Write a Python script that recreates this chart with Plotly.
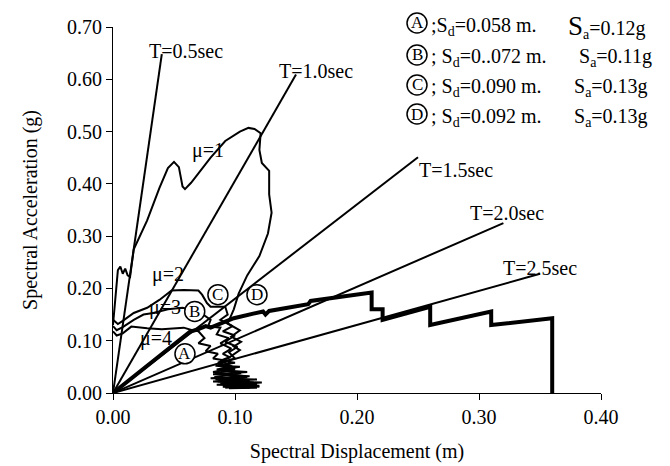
import plotly.graph_objects as go

FONT = "Liberation Serif"
W, H = 670, 466
ML, MR, MT, MB = 113, 69, 27, 73

# ---------------- data ----------------
period_labels = ["T=0.5sec", "T=1.0sec", "T=1.5sec", "T=2.0sec", "T=2.5sec"]
period_end_sd = [0.040, 0.150, 0.250, 0.320, 0.350]
period_end_sa = [0.648, 0.609, 0.451, 0.325, 0.228]

mu1_sd = [0.000, 0.002, 0.004, 0.006, 0.008, 0.010, 0.012, 0.014, 0.017, 0.028, 0.038, 0.045,
          0.050, 0.054, 0.057, 0.059, 0.064, 0.080, 0.092, 0.104, 0.111, 0.116, 0.121, 0.120,
          0.122, 0.128, 0.128, 0.130, 0.127, 0.120, 0.110, 0.103, 0.099, 0.094, 0.099, 0.104,
          0.097, 0.105, 0.099, 0.104, 0.096, 0.088, 0.100, 0.084, 0.104, 0.086, 0.110, 0.082,
          0.112, 0.080, 0.118, 0.082, 0.122, 0.085, 0.120, 0.090, 0.118, 0.095]
mu1_sa = [0.130, 0.180, 0.235, 0.242, 0.228, 0.238, 0.225, 0.222, 0.275, 0.330, 0.392, 0.430,
          0.442, 0.432, 0.395, 0.390, 0.402, 0.450, 0.482, 0.500, 0.507, 0.505, 0.497, 0.465,
          0.440, 0.425, 0.380, 0.345, 0.305, 0.262, 0.225, 0.190, 0.160, 0.133, 0.127, 0.120,
          0.108, 0.098, 0.089, 0.082, 0.069, 0.062, 0.058, 0.052, 0.050, 0.044, 0.040, 0.036,
          0.032, 0.028, 0.026, 0.022, 0.020, 0.016, 0.014, 0.012, 0.010, 0.009]

mu2_sd = [0.000, 0.004, 0.008, 0.017, 0.028, 0.038, 0.048, 0.058, 0.070, 0.073, 0.077, 0.080,
          0.092, 0.094, 0.088, 0.098, 0.090, 0.100, 0.092, 0.102, 0.095, 0.100, 0.090, 0.098,
          0.085, 0.105, 0.083, 0.112, 0.088, 0.115, 0.092]
mu2_sa = [0.140, 0.132, 0.138, 0.153, 0.163, 0.178, 0.196, 0.197, 0.196, 0.188, 0.172, 0.165,
          0.165, 0.150, 0.140, 0.128, 0.118, 0.110, 0.098, 0.088, 0.078, 0.066, 0.060, 0.050,
          0.045, 0.038, 0.030, 0.024, 0.018, 0.014, 0.010]

mu3_sd = [0.000, 0.003, 0.008, 0.017, 0.025, 0.033, 0.045, 0.057, 0.067, 0.074, 0.080, 0.078,
          0.088, 0.085, 0.095, 0.088, 0.097, 0.090, 0.096, 0.086, 0.100, 0.082, 0.108, 0.084,
          0.116, 0.090, 0.120]
mu3_sa = [0.128, 0.120, 0.126, 0.140, 0.150, 0.153, 0.160, 0.163, 0.158, 0.150, 0.140, 0.128,
          0.125, 0.112, 0.105, 0.095, 0.085, 0.075, 0.068, 0.058, 0.048, 0.040, 0.032, 0.026,
          0.020, 0.015, 0.012]

mu4_sd = [0.000, 0.003, 0.008, 0.015, 0.028, 0.040, 0.052, 0.058, 0.065, 0.070, 0.075, 0.070,
          0.080, 0.076, 0.086, 0.082, 0.092, 0.086, 0.100, 0.084, 0.110, 0.086, 0.118, 0.095,
          0.112]
mu4_sa = [0.118, 0.110, 0.114, 0.127, 0.124, 0.122, 0.124, 0.125, 0.120, 0.118, 0.105, 0.095,
          0.090, 0.080, 0.075, 0.066, 0.062, 0.052, 0.045, 0.038, 0.030, 0.022, 0.017, 0.012,
          0.010]

cap_sd = [0.000, 0.063, 0.070, 0.076, 0.080, 0.088, 0.099, 0.123, 0.125, 0.128, 0.153, 0.160,
          0.162, 0.186, 0.212, 0.212, 0.221, 0.221, 0.260, 0.260, 0.310, 0.310, 0.360, 0.360]
cap_sa = [0.000, 0.117, 0.122, 0.128, 0.125, 0.132, 0.143, 0.156, 0.150, 0.157, 0.167, 0.170,
          0.176, 0.184, 0.192, 0.160, 0.160, 0.140, 0.165, 0.130, 0.156, 0.130, 0.143, 0.000]

mu_labels = ["μ=1", "μ=2", "μ=3", "μ=4"]

point_letters = ["A", "B", "C", "D"]
point_sd = [0.059, 0.067, 0.086, 0.118]
point_sa = [0.075, 0.156, 0.188, 0.188]

legend_sd_text = ["0.058", "0..072", "0.090", "0.092"]
legend_sa_text = ["0.12", "0.11", "0.13", "0.13"]

x_ticks = [0.0, 0.1, 0.2, 0.3, 0.4]
y_ticks = [0.0, 0.1, 0.2, 0.3, 0.4, 0.5, 0.6, 0.7]


# ---------------- helpers for layout placement ----------------
def px_x(x):
    return (x - ML) / (W - ML - MR)


def px_y(y):
    return (H - MB - y) / (H - MT - MB)


fig = go.Figure()

# period lines
for sd, sa in zip(period_end_sd, period_end_sa):
    fig.add_trace(go.Scatter(x=[0, sd], y=[0, sa], mode="lines",
                             line=dict(color="black", width=2), showlegend=False))

for xs, ys in [(mu1_sd, mu1_sa), (mu2_sd, mu2_sa), (mu3_sd, mu3_sa), (mu4_sd, mu4_sa)]:
    fig.add_trace(go.Scatter(x=xs, y=ys, mode="lines",
                             line=dict(color="black", width=2), showlegend=False))

fig.add_trace(go.Scatter(x=cap_sd, y=cap_sa, mode="lines",
                         line=dict(color="black", width=4), showlegend=False))

annotations = []
shapes = []

# period labels
period_label_px = [(147, 51), (277, 71), (417, 170), (468, 213), (501, 268)]
for txt, (lx, ly) in zip(period_labels, period_label_px):
    annotations.append(dict(x=px_x(lx), y=px_y(ly), xref="paper", yref="paper", text=txt,
                            showarrow=False, xanchor="left", yanchor="middle",
                            font=dict(family=FONT, size=20, color="black")))

# mu labels
mu_label_px = [(190, 150), (150, 274), (147, 307), (138, 338)]
for txt, (lx, ly) in zip(mu_labels, mu_label_px):
    annotations.append(dict(x=px_x(lx), y=px_y(ly), xref="paper", yref="paper", text=txt,
                            showarrow=False, xanchor="left", yanchor="middle",
                            font=dict(family=FONT, size=20, color="black")))

# circled points on the chart
for letter, sd, sa in zip(point_letters, point_sd, point_sa):
    shapes.append(dict(type="circle", xref="x", yref="y", xsizemode="pixel", ysizemode="pixel",
                       xanchor=sd, yanchor=sa, x0=-10, x1=10, y0=-10, y1=10,
                       line=dict(color="black", width=1.5), fillcolor="white", layer="above"))
    annotations.append(dict(x=sd, y=sa, xref="x", yref="y", text=letter, showarrow=False,
                            xanchor="center", yanchor="middle",
                            font=dict(family=FONT, size=17, color="black")))

# legend block (top right)
row_y = [23, 55, 85, 114]
sa_x = [566, 577, 572, 572]
for i, (letter, sdt, sat) in enumerate(zip(point_letters, legend_sd_text, legend_sa_text)):
    cy = row_y[i]
    shapes.append(dict(type="circle", xref="paper", yref="paper", xsizemode="pixel",
                       ysizemode="pixel", xanchor=px_x(417), yanchor=px_y(cy),
                       x0=-10, x1=10, y0=-10, y1=10,
                       line=dict(color="black", width=1.5), fillcolor="white"))
    annotations.append(dict(x=px_x(417), y=px_y(cy), xref="paper", yref="paper", text=letter,
                            showarrow=False, xanchor="center", yanchor="middle",
                            font=dict(family=FONT, size=17, color="black")))
    sep = ";" if i == 0 else "; "
    annotations.append(dict(x=px_x(429), y=px_y(cy + 3), xref="paper", yref="paper",
                            text=f"{sep}S<sub>d</sub>={sdt} m.", showarrow=False,
                            xanchor="left", yanchor="middle",
                            font=dict(family=FONT, size=20, color="black")))
    s_char = "<span style='font-size:27px'>S</span>" if i == 0 else "S"
    annotations.append(dict(x=px_x(sa_x[i]), y=px_y(cy + 3), xref="paper", yref="paper",
                            text=f"{s_char}<sub>a</sub>={sat}g", showarrow=False,
                            xanchor="left", yanchor="middle",
                            font=dict(family=FONT, size=20, color="black")))

axis_common = dict(showgrid=False, zeroline=False, showline=True, linecolor="black",
                   linewidth=1, ticks="outside", ticklen=6, tickwidth=1, tickcolor="black",
                   tickformat=".2f", tickfont=dict(family=FONT, size=20, color="black"),
                   automargin=False)

fig.update_layout(
    width=W, height=H,
    margin=dict(l=ML, r=MR, t=MT, b=MB),
    paper_bgcolor="white", plot_bgcolor="white",
    showlegend=False,
    xaxis=dict(range=[0, 0.4], tickvals=x_ticks,
               title=dict(text="Spectral Displacement (m)", standoff=16,
                          font=dict(family=FONT, size=20, color="black")),
               **axis_common),
    yaxis=dict(range=[0, 0.7], tickvals=y_ticks,
               title=dict(text="Spectral Acceleration (g)", standoff=24,
                          font=dict(family=FONT, size=20, color="black")),
               **axis_common),
    annotations=annotations,
    shapes=shapes,
)

fig.write_html("out.html")
